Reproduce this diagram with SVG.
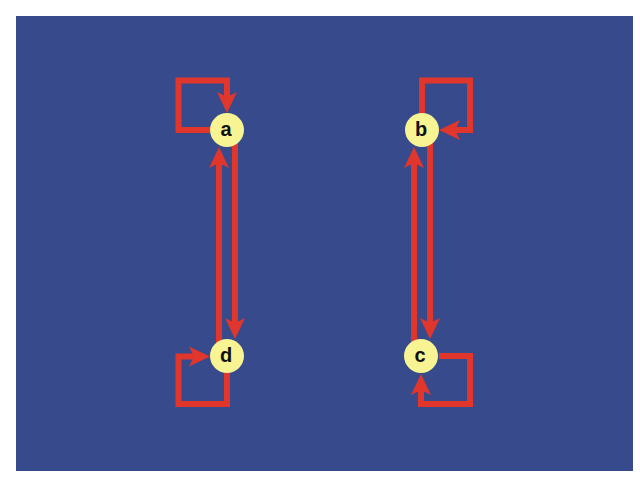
<svg xmlns="http://www.w3.org/2000/svg" width="640" height="480" viewBox="0 0 640 480">
<style>
.edge{fill:none;stroke:#e0362c;stroke-width:6;stroke-linejoin:miter}
.node circle{fill:#f8f493}
.node text{font-family:"Liberation Sans",Arial,sans-serif;font-weight:bold;font-size:20px;fill:#111;text-anchor:middle;dominant-baseline:central}
</style>
<defs>
<marker id="arr" markerUnits="userSpaceOnUse" viewBox="0 -11 22 22" refX="5" refY="0" markerWidth="22" markerHeight="22" orient="auto" overflow="visible">
<path d="M0,-10 L21,0 L0,10 L5,0 Z" fill="#e0362c"/>
</marker>
</defs>
<rect x="0" y="0" width="640" height="480" fill="#fff"/>
<rect x="16" y="16" width="617" height="455" fill="#364a8c"/>
<g id="connectors">
<path class="edge" d="M210,130 H178.5 V80.5 H227 V97" marker-end="url(#arr)"/>
<path class="edge" d="M422,113 V80.5 H470 V130 H455" marker-end="url(#arr)"/>
<path class="edge" d="M227,372 V404 H178.5 V356.5 H194" marker-end="url(#arr)"/>
<path class="edge" d="M439,356 H470 V404 H421 V390" marker-end="url(#arr)"/>
<path class="edge" d="M235,130 V323" marker-end="url(#arr)"/>
<path class="edge" d="M219,356 V163" marker-end="url(#arr)"/>
<path class="edge" d="M430,130 V323" marker-end="url(#arr)"/>
<path class="edge" d="M414,356 V163" marker-end="url(#arr)"/>
</g>
<g id="a" class="node"><circle cx="227" cy="130" r="17"/><text x="226" y="129">a</text></g>
<g id="b" class="node"><circle cx="422" cy="130" r="17"/><text x="421" y="129">b</text></g>
<g id="c" class="node"><circle cx="421" cy="356" r="17"/><text x="420" y="355">c</text></g>
<g id="d" class="node"><circle cx="227" cy="356" r="17"/><text x="226" y="355">d</text></g>
</svg>
